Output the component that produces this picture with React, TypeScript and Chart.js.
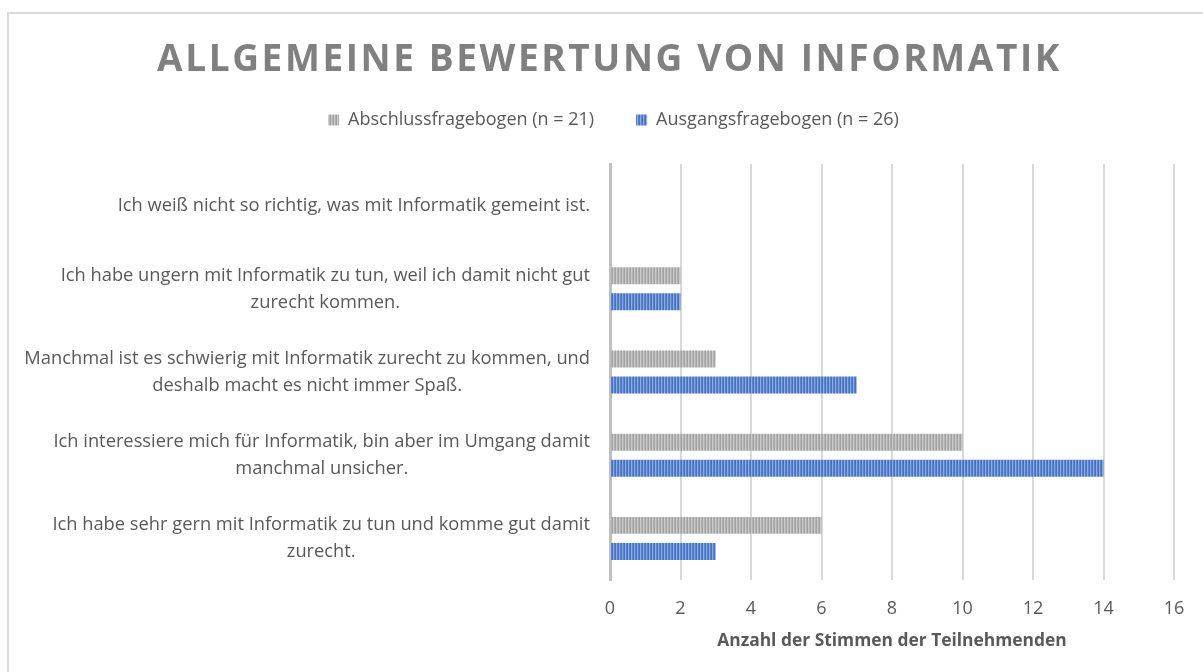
import React, { useEffect, useRef } from "react";
import { Chart, registerables } from "chart.js";

Chart.register(...registerables);

const chartTitle = "ALLGEMEINE BEWERTUNG VON INFORMATIK";
const axisTitle = "Anzahl der Stimmen der Teilnehmenden";

const categories: string[][] = [
  ["Ich weiß nicht so richtig, was mit Informatik gemeint ist."],
  ["Ich habe ungern mit Informatik zu tun, weil ich damit nicht gut", "zurecht kommen."],
  ["Manchmal ist es schwierig mit Informatik zurecht zu kommen, und", "deshalb macht es nicht immer Spaß."],
  ["Ich interessiere mich für Informatik, bin aber im Umgang damit", "manchmal unsicher."],
  ["Ich habe sehr gern mit Informatik zu tun und komme gut damit", "zurecht."],
];

const seriesNames = ["Abschlussfragebogen (n = 21)", "Ausgangsfragebogen (n = 26)"];
const abschlussValues = [0, 2, 3, 10, 6];
const ausgangsValues = [0, 2, 7, 14, 3];

const xMin = 0;
const xMax = 16;
const xStep = 2;

const FONT = '"Open Sans", "Liberation Sans", sans-serif';
const TEXT = "#595959";

function makePattern(colors: string[]): CanvasPattern | string {
  const c = document.createElement("canvas");
  c.width = colors.length;
  c.height = 4;
  const g = c.getContext("2d");
  if (!g) return colors[0];
  colors.forEach((col, i) => {
    g.fillStyle = col;
    g.fillRect(i, 0, 1, 4);
  });
  const p = g.createPattern(c, "repeat");
  return p || colors[0];
}

const titlePlugin = {
  id: "customTitle",
  afterDraw(chart: any) {
    const ctx = chart.ctx as CanvasRenderingContext2D;
    ctx.save();
    (ctx as any).letterSpacing = "2.6px";
    ctx.font = `bold 37px ${FONT}`;
    ctx.fillStyle = "#808080";
    ctx.textAlign = "center";
    ctx.textBaseline = "alphabetic";
    ctx.fillText(chartTitle, chart.width / 2 + 8, 71);
    ctx.restore();
  },
};

const yLabelPlugin = {
  id: "yLabels",
  afterDraw(chart: any) {
    const ctx = chart.ctx as CanvasRenderingContext2D;
    const yScale = chart.scales.y;
    const left = chart.chartArea.left;
    ctx.save();
    ctx.font = `18.3px ${FONT}`;
    ctx.fillStyle = TEXT;
    ctx.textAlign = "center";
    ctx.textBaseline = "middle";
    const lineH = 27;
    categories.forEach((lines, i) => {
      const cy = yScale.getPixelForValue(i);
      const w = Math.max(...lines.map((l) => ctx.measureText(l).width));
      const cx = left - 20 - w / 2;
      lines.forEach((l, j) => {
        ctx.fillText(l, cx, cy + (j - (lines.length - 1) / 2) * lineH);
      });
    });
    ctx.restore();
  },
};

export default function App() {
  const ref = useRef<HTMLCanvasElement | null>(null);

  useEffect(() => {
    if (!ref.current) return;
    const grayPattern = makePattern(["#a3a3a3", "#cacaca", "#b2b2b2"]);
    const bluePattern = makePattern(["#4472c4", "#8eaadc", "#5a82cb"]);

    const chart = new Chart(ref.current, {
      type: "bar",
      data: {
        labels: categories,
        datasets: [
          {
            label: seriesNames[0],
            data: abschlussValues,
            backgroundColor: grayPattern as any,
            borderWidth: 0,
            categoryPercentage: 0.627,
            barPercentage: 0.65,
          },
          {
            label: seriesNames[1],
            data: ausgangsValues,
            backgroundColor: bluePattern as any,
            borderWidth: 0,
            categoryPercentage: 0.627,
            barPercentage: 0.65,
          },
        ],
      },
      options: {
        indexAxis: "y",
        animation: false,
        responsive: true,
        maintainAspectRatio: false,
        layout: { padding: { top: 69, left: 53, right: 29, bottom: 0 } },
        plugins: {
          title: { display: false },
          subtitle: {
            display: true,
            text: "",
            weight: 500,
            padding: 0,
            font: { size: 25, lineHeight: 1 },
          } as any,
          legend: {
            display: true,
            position: "top",
            labels: {
              boxWidth: 11,
              boxHeight: 11,
              padding: 42,
              color: TEXT,
              font: { family: FONT, size: 18 },
            },
          },
          tooltip: { enabled: false },
        },
        scales: {
          x: {
            type: "linear",
            min: xMin,
            max: xMax,
            ticks: {
              stepSize: xStep,
              color: TEXT,
              padding: 18,
              font: { family: FONT, size: 18 },
            },
            grid: { color: "#d9d9d9", lineWidth: 2, drawTicks: false },
            border: { display: false },
            title: {
              display: true,
              text: axisTitle,
              color: TEXT,
              font: { family: FONT, size: 17.4, weight: "bold" },
              padding: { top: 0, bottom: 21 },
            },
            afterFit: (s: any) => {
              s.height = 92;
            },
          },
          y: {
            type: "category",
            ticks: { display: false },
            grid: { display: false },
            border: { display: true, color: "#bfbfbf", width: 3 },
            afterFit: (s: any) => {
              s.width = 557;
            },
          },
        },
      },
      plugins: [titlePlugin, yLabelPlugin],
    });
    return () => chart.destroy();
  }, []);

  return (
    <div
      style={{
        position: "fixed",
        left: 0,
        top: 0,
        width: 1203,
        height: 672,
        overflow: "hidden",
        background: "#ffffff",
      }}
    >
      <div
        style={{
          position: "absolute",
          left: 7,
          top: 12,
          width: 1300,
          height: 800,
          border: "2px solid #dadada",
        }}
      />
      <div style={{ position: "absolute", left: 0, top: 0, width: 1203, height: 672 }}>
        <canvas ref={ref} />
      </div>
    </div>
  );
}
